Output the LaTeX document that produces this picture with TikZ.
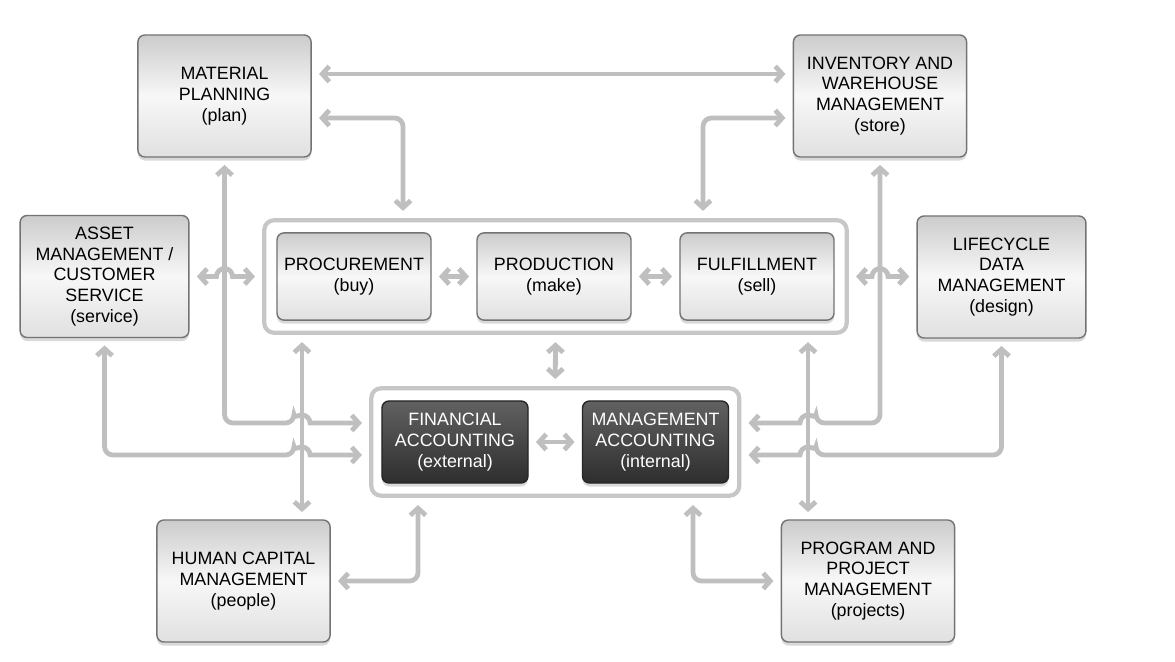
\documentclass[tikz,border=0pt]{standalone}
\usepackage{fontspec}
\setmainfont{Liberation Sans}
\usetikzlibrary{arrows.meta, calc, fit, shadows}
\tikzset{
	module/.style={
		rectangle,
		rounded corners=5pt,
		minimum width=4.33cm,
		minimum height=3.05cm,
		align=center,
		draw=black!55,
		line width=1pt,
		top color=black!20,
		bottom color=black!12,
		middle color=black!3,
		drop shadow={shadow xshift=0pt, shadow yshift=-2.5pt, opacity=0.3},
		font=\fontsize{12.7}{14.8}\selectfont
	},
	submodule/.style={
		module,
		minimum width=3.85cm,
		minimum height=2.18cm
	},
	accbox/.style={
		module,
		minimum width=3.65cm,
		minimum height=2.05cm,
		draw=black!85,
		top color=black!62,
		bottom color=black!82,
		middle color=black!72,
		text=white
	},
	group/.style={
		rectangle,
		rounded corners=7pt,
		draw=black!22,
		line width=3pt,
		inner sep=0.3cm
	},
	link/.style={
		draw=black!25,
		line width=3.4pt,
		{Straight Barb[length=5pt,width=11pt]}-{Straight Barb[length=5pt,width=11pt]},
		shorten >=0.18cm,
		shorten <=0.18cm
	},
	roundbend/.style={rounded corners=6pt}
}

\begin{document}
\begin{tikzpicture}[x=0.025cm, y=-0.025cm]
	\useasboundingbox (0,0) rectangle (1175,662);

	% outer modules
	\node (mat) [module] at (224.5,96) {MATERIAL\\PLANNING\\(plan)};
	\node (inv) [module] at (880,96) {INVENTORY AND\\WAREHOUSE\\MANAGEMENT\\(store)};
	\node (ast) [module, minimum width=4.22cm] at (104.5,276.5) {ASSET\\MANAGEMENT /\\CUSTOMER\\SERVICE\\(service)};
	\node (lcm) [module, minimum width=4.22cm] at (1001.5,277) {LIFECYCLE\\DATA\\MANAGEMENT\\(design)};
	\node (hcm) [module] at (243.5,581) {HUMAN CAPITAL\\MANAGEMENT\\(people)};
	\node (ppm) [module] at (868,581) {PROGRAM AND\\PROJECT\\MANAGEMENT\\(projects)};

	% operations
	\node (proc) [submodule] at (354,276.5) {PROCUREMENT\\(buy)};
	\node (prod) [submodule] at (554,276.5) {PRODUCTION\\(make)};
	\node (ful) [submodule] at (757,276.5) {FULFILLMENT\\(sell)};
	\node (ops) [group, fit=(proc)(ful)] {};

	% accounting
	\node (fin) [accbox] at (455,442) {FINANCIAL\\ACCOUNTING\\(external)};
	\node (mgt) [accbox] at (655.5,442) {MANAGEMENT\\ACCOUNTING\\(internal)};
	\node (acc) [group, fit=(fin)(mgt), inner xsep=0.25cm, inner ysep=0.3cm] {};

	% rows and columns of the connectors
	\coordinate (rowTop) at (0,74);
	\coordinate (rowMid) at (0,118);
	\coordinate (rowAccA) at (0,423);
	\coordinate (rowAccB) at (0,455);
	\coordinate (colB) at (302,0);
	\coordinate (colC) at (403,0);
	\coordinate (colD) at (703,0);
	\coordinate (colE) at (808,0);
	\coordinate (colI) at (418,0);
	\coordinate (colJ) at (693,0);

	\draw [link] (mat.east |- rowTop) -- (inv.west |- rowTop);
	\draw [link, roundbend] (mat.east |- rowMid) -| (ops.north -| colC);
	\draw [link, roundbend] (inv.west |- rowMid) -| (ops.north -| colD);

	\draw [link] (proc) -- (prod);
	\draw [link] (prod) -- (ful);
	\draw [link] (fin) -- (mgt);
	\draw [link] (ops.south) -- (acc.north);

	\draw [link] (ops.south -| colB) -- (hcm.north -| colB);
	\draw [link] (ops.south -| colE) -- (ppm.north -| colE);
	\draw [link, roundbend] (hcm.east) -| (acc.south -| colI);
	\draw [link, roundbend] (acc.south -| colJ) |- (ppm.west);

	% connectors with hops
	\draw [link] (ast.east) -- ($(mat.south |- ast.east)+(-8,0)$) arc [start angle=180, end angle=360, radius=8] -- (ops.west |- ast.east);
	\draw [link] (ops.east) -- ($(inv.south |- ops.east)+(-8,0)$) arc [start angle=180, end angle=360, radius=8] -- (lcm.west |- ops.east);

	\draw [link] (mat.south) [roundbend] |- ($(colB |- rowAccA)+(-8,0)$) [sharp corners] arc [start angle=180, end angle=360, radius=8] -- (acc.west |- rowAccA);
	\draw [link] (ast.south) [roundbend] |- ($(colB |- rowAccB)+(-8,0)$) [sharp corners] arc [start angle=180, end angle=360, radius=8] -- (acc.west |- rowAccB);
	\draw [link] (inv.south) [roundbend] |- ($(colE |- rowAccA)+(8,0)$) [sharp corners] arc [start angle=0, end angle=-180, radius=8] -- (acc.east |- rowAccA);
	\draw [link] (lcm.south) [roundbend] |- ($(colE |- rowAccB)+(8,0)$) [sharp corners] arc [start angle=0, end angle=-180, radius=8] -- (acc.east |- rowAccB);
\end{tikzpicture}
\end{document}
